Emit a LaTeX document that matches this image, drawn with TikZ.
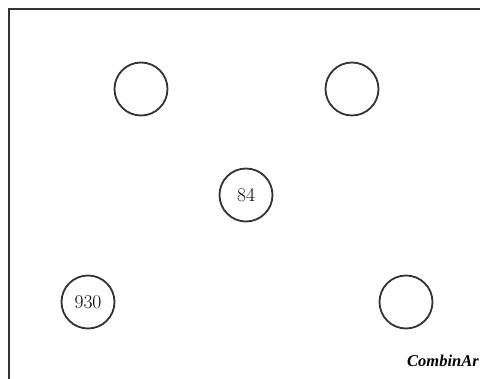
\documentclass[tikz,border=0pt]{standalone}
\usepackage{fontspec}
\newfontfamily\markfont{Liberation Serif}
\usetikzlibrary{positioning}

\begin{document}
\begin{tikzpicture}[x=1pt,y=-1pt,
  nd/.style={circle,draw=black!80,line width=1.8pt,minimum size=53pt,inner sep=0pt,font=\fontsize{19.5}{22}\selectfont}]
\useasboundingbox (0,0) rectangle (480,379);
\draw[black!80,line width=2pt] (8.5,9.5) rectangle (495,379.8);
\node[nd] (tl) at (141,89) {};
\node[nd] (tr) at (352,89) {};
\node[nd] (mid) at (246,195) {84};
\node[nd] (bl) at (88,302) {930};
\node[nd] (br) at (406,302) {};
\node[anchor=base west,inner sep=0pt,font=\markfont\bfseries\itshape\fontsize{16.5}{18}\selectfont] (mark) at (407,367) {CombinAr};
\end{tikzpicture}
\end{document}
